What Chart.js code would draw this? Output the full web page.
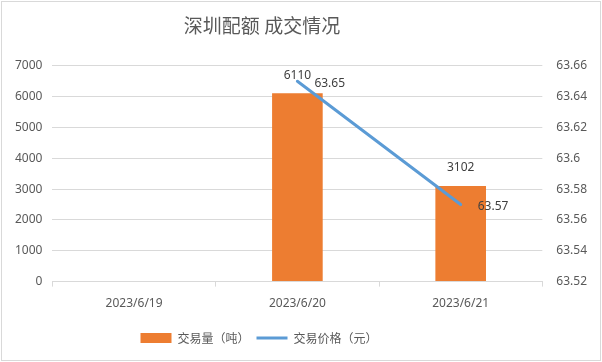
<!DOCTYPE html>
<html>
<head>
<meta charset="utf-8">
<script src="https://cdn.jsdelivr.net/npm/chart.js@4/dist/chart.umd.min.js"></script>
<style>
  html, body { margin: 0; padding: 0; background: #fff; }
  #wrap { width: 602px; height: 362px; }
</style>
</head>
<body>
<div id="wrap"><canvas id="myChart" width="602" height="362"></canvas></div>
<script>
const fechas = ['2023/6/19', '2023/6/20', '2023/6/21'];
const volumen = [null, 6110, 3102];
const precio = [null, 63.65, 63.57];
const titulo = '深圳配额 成交情况';
const nombreVolumen = '交易量（吨）';
const nombrePrecio = '交易价格（元）';

const naranja = '#ED7D31';
const azul = '#5B9BD5';
const gris = '#595959';
const fuenteCjk = '"Noto Sans CJK SC", "Noto Sans", sans-serif';
const fuenteNum = '"Noto Sans", "Liberation Sans", sans-serif';

// fondo blanco y marco gris
const marco = {
    id: 'marco',
    beforeDraw(chart) {
        const c = chart.ctx;
        c.save();
        c.fillStyle = '#fff';
        c.fillRect(0, 0, chart.width, chart.height);
        c.strokeStyle = '#D9D9D9';
        c.lineWidth = 1;
        c.strokeRect(1.5, 1.5, chart.width - 3, chart.height - 3);
        c.restore();
    }
};

// titulo y leyenda van un poco a la izquierda, como en el original
const moverCajas = {
    id: 'moverCajas',
    afterLayout(chart) {
        chart.legend.left -= 44;
        chart.legend.right -= 44;
        chart.titleBlock.left -= 41;
        chart.titleBlock.right -= 41;
    }
};

// etiquetas de valores
const etiquetas = {
    id: 'etiquetas',
    afterDatasetsDraw(chart) {
        const c = chart.ctx;
        c.save();
        c.font = '12px ' + fuenteNum;
        c.fillStyle = '#404040';
        c.textBaseline = 'middle';
        chart.data.datasets.forEach((ds, i) => {
            const meta = chart.getDatasetMeta(i);
            meta.data.forEach((el, j) => {
                const v = ds.data[j];
                if (v === null || v === undefined) return;
                if (ds.type === 'line') {
                    c.textAlign = 'left';
                    c.fillText(String(v), el.x + 17, el.y + 2);
                } else {
                    c.textAlign = 'center';
                    c.fillText(String(v), el.x, el.y - 18);
                }
            });
        });
        c.restore();
    }
};

const ctx = document.getElementById('myChart').getContext('2d');
const chart = new Chart(ctx, {
    data: {
        labels: fechas,
        datasets: [
            {
                type: 'line',
                label: nombrePrecio,
                data: precio,
                yAxisID: 'y1',
                borderColor: azul,
                backgroundColor: azul,
                borderWidth: 3,
                borderCapStyle: 'round',
                pointRadius: 0,
                fill: false,
                tension: 0,
                order: 0
            },
            {
                type: 'bar',
                label: nombreVolumen,
                data: volumen,
                yAxisID: 'y',
                backgroundColor: naranja,
                categoryPercentage: 1,
                barPercentage: 0.31,
                order: 1
            }
        ]
    },
    options: {
        responsive: false,
        animation: false,
        layout: { padding: { left: 5, right: 1, top: 0, bottom: 8 } },
        scales: {
            x: {
                grid: {
                    drawOnChartArea: false,
                    drawTicks: true,
                    tickLength: 5,
                    color: '#D9D9D9'
                },
                border: { color: '#D9D9D9' },
                ticks: { color: gris, font: { size: 12, family: fuenteNum }, padding: 10 },
                afterFit: s => { s.height += 4; }
            },
            y: {
                position: 'left',
                min: 0,
                max: 7000,
                ticks: {
                    stepSize: 1000,
                    color: gris,
                    padding: 10,
                    font: { size: 12, family: fuenteNum },
                    callback: v => String(v)
                },
                grid: { color: '#D9D9D9', drawTicks: false },
                border: { display: false }
            },
            y1: {
                position: 'right',
                min: 63.52,
                max: 63.66,
                ticks: {
                    stepSize: 0.02,
                    color: gris,
                    padding: 14,
                    font: { size: 12, family: fuenteNum },
                    callback: v => String(+v.toFixed(2))
                },
                grid: { display: false, drawTicks: false },
                border: { display: false }
            }
        },
        plugins: {
            title: {
                display: true,
                text: titulo,
                color: gris,
                font: { size: 19, weight: 'normal', family: fuenteCjk },
                padding: { top: 14, bottom: 29 }
            },
            legend: {
                position: 'bottom',
                labels: {
                    color: gris,
                    font: { size: 12, family: fuenteCjk },
                    usePointStyle: true,
                    boxHeight: 10,
                    pointStyleWidth: 31,
                    padding: 7,
                    generateLabels: () => [
                        { text: nombreVolumen, fillStyle: naranja, strokeStyle: naranja, lineWidth: 0, pointStyle: 'rect', datasetIndex: 1, hidden: false, fontColor: gris },
                        { text: nombrePrecio, fillStyle: azul, strokeStyle: azul, lineWidth: 3, pointStyle: 'line', datasetIndex: 0, hidden: false, fontColor: gris }
                    ]
                }
            },
            tooltip: { enabled: false }
        }
    },
    plugins: [marco, moverCajas, etiquetas]
});
</script>
</body>
</html>
